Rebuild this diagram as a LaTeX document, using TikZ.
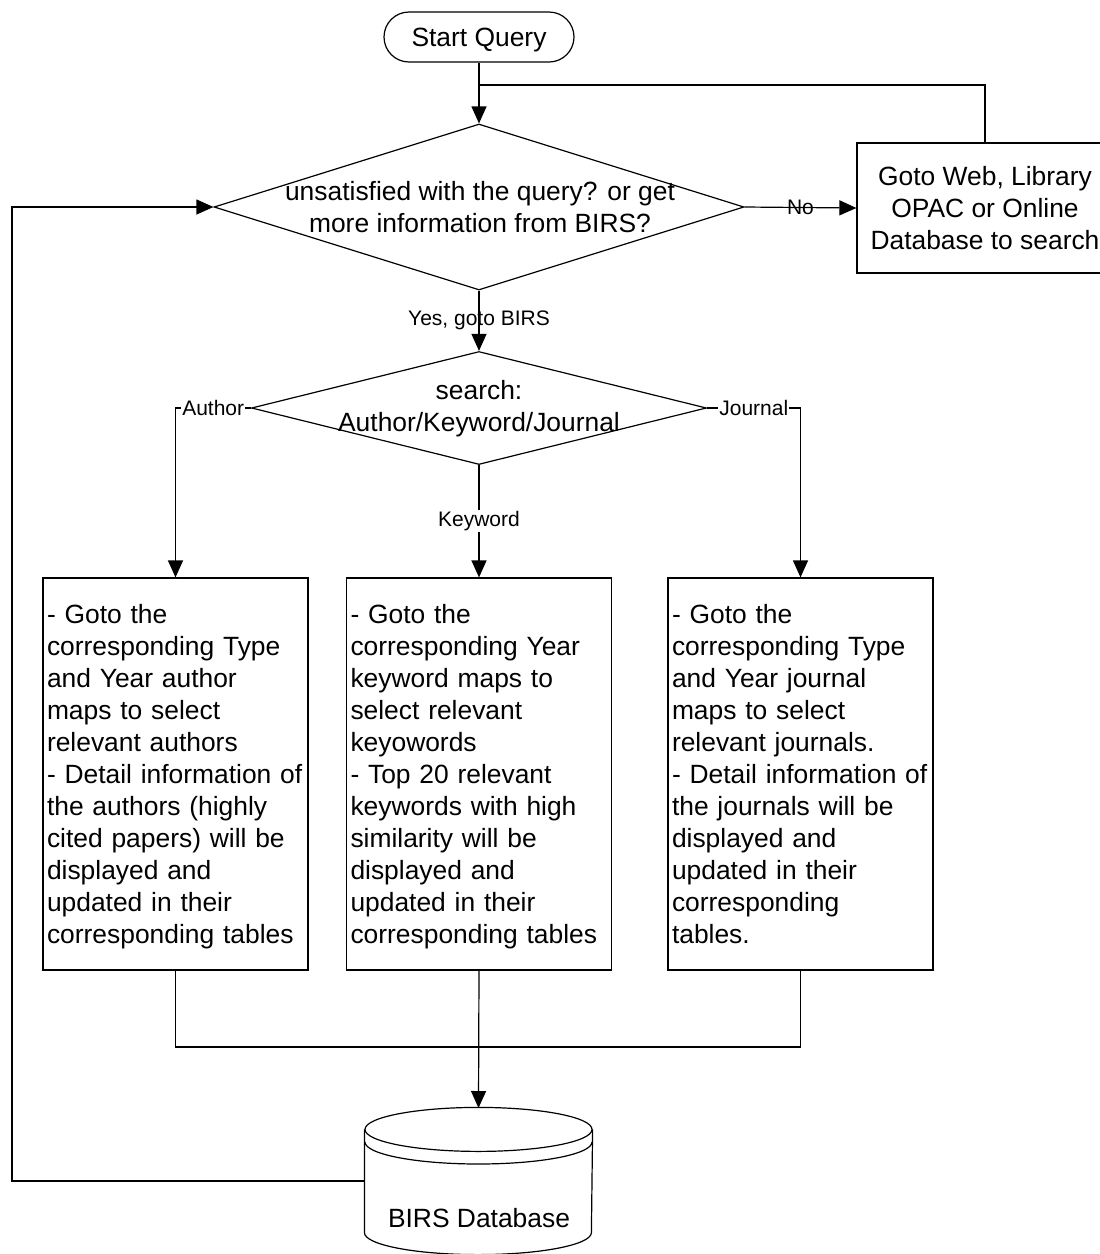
\documentclass[tikz,border=0pt]{standalone}
\usepackage{fontspec}
\setmainfont{Liberation Sans}
\usetikzlibrary{shapes.geometric,arrows.meta,positioning}

\begin{document}
\begin{tikzpicture}[x=1pt, y=-1pt,
  font=\fontsize{26.4}{32}\selectfont,
  line width=1.2pt,
  term/.style={draw, rounded corners=25pt, minimum width=190pt, minimum height=50pt, inner sep=0pt, text height=25pt, text depth=7pt},
  dec/.style={draw, diamond, inner sep=0pt},
  box/.style={draw, align=center, minimum width=256pt, minimum height=130pt, inner sep=0pt},
  tbox/.style={draw, align=left, text width=257pt, inner xsep=4pt, inner ysep=0pt, minimum height=392pt},
  lbl/.style={font=\fontsize{21}{24}\selectfont, inner sep=1pt},
  lblw/.style={lbl, fill=white},
  arr/.style={-{Triangle[length=17pt, width=15pt]}}]
\useasboundingbox (0,0) rectangle (1100,1254);
\node[term] (start) at (479,37) {Start Query};
\node[dec, minimum width=530pt, minimum height=166pt] (ask) at (479,207) {};
\node[align=center] (asktxt) at (480,207) {unsatisfied with the query? or get\\more information from BIRS?};
\node[box] (web) at (985,208) {Goto Web, Library\\OPAC or Online\\Database to search};
\node[dec, minimum width=455pt, minimum height=113pt] (srch) at (479,408) {};
\node[align=center] (srchtxt) at (479,409) {search:\\Author/Keyword/Journal};
\node[tbox] (au) at (175.5,774) {\rule{0pt}{28.4pt}- Goto the\\corresponding Type\\and Year author\\maps to select\\relevant authors\\- Detail information of\\the authors (highly\\cited papers) will be\\displayed and\\updated in their\\corresponding tables\strut};
\node[tbox] (kw) at (479,774) {\rule{0pt}{28.4pt}- Goto the\\corresponding Year\\keyword maps to\\select relevant\\keyowords\\- Top 20 relevant\\keywords with high\\similarity will be\\displayed and\\updated in their\\corresponding tables\strut};
\node[tbox] (jn) at (800.5,774) {\rule{0pt}{28.4pt}- Goto the\\corresponding Type\\and Year journal\\maps to select\\relevant journals.\\- Detail information of\\the journals will be\\displayed and\\updated in their\\corresponding\\tables.\strut};
\node[minimum width=227pt, minimum height=102pt, inner sep=0pt] (db) at (478.5,1181) {};
\node (dbname) at (479,1218) {BIRS Database};
\coordinate (merge) at (479,85);
\coordinate (join) at (479,1047);
\coordinate (dbtop) at (478.5,1108);
\coordinate (back) at (12,600);
% database drum
\draw (db.north) ellipse [x radius=113.5, y radius=22];
\draw (365,1142) arc[start angle=180, end angle=0, x radius=113.5, y radius=22];
\draw (db.north west) -- (db.south west) arc[start angle=180, end angle=0, x radius=113.5, y radius=22] -- (db.north east);
% connectors
\draw[arr] (start.south) -- (ask.north);
\draw (web.north) |- (merge);
\draw[arr] (ask.east) -- node[lbl]{No} (web.west);
\draw[arr] (ask.south) -- node[lbl]{Yes, goto BIRS} (srch.north);
\draw[arr] (srch.west) -| node[lblw, pos=0.25]{Author} (au.north);
\draw[arr] (srch.east) -| node[lblw, pos=0.25]{Journal} (jn.north);
\draw[arr] (srch.south) -- node[lblw]{Keyword} (kw.north);
\draw (au.south) |- (join) -| (jn.south);
\draw[arr] (kw.south) -- (dbtop);
\draw[arr] (db.west) -| (back) |- (ask.west);
\end{tikzpicture}
\end{document}
